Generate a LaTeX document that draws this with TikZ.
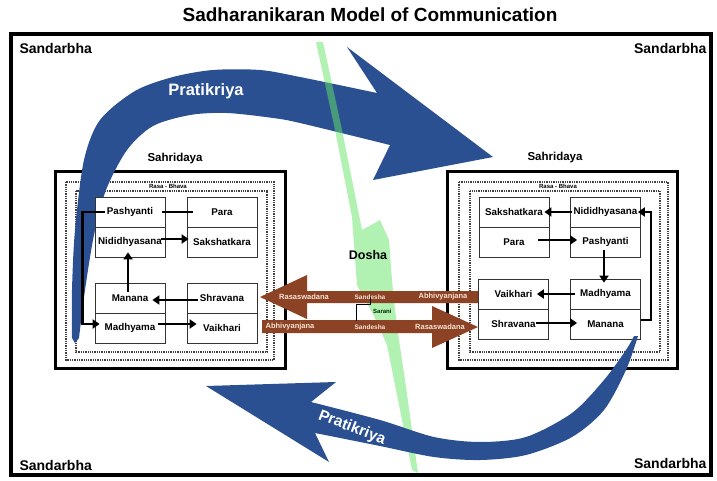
\documentclass[tikz,border=0pt]{standalone}
\usepackage{fontspec}
\setmainfont{Liberation Sans}
\usetikzlibrary{arrows.meta}
\definecolor{pratiblue}{RGB}{42,80,145}
\definecolor{doshagreen}{RGB}{100,228,100}
\definecolor{sandbrown}{RGB}{140,66,36}
\definecolor{palelbl}{RGB}{250,228,214}

\begin{document}
\begin{tikzpicture}[x=1pt,y=-1pt,
    cell/.style={draw=black!80,line width=0.7pt,fill=white,minimum width=70pt,minimum height=30pt,inner sep=0pt,font=\fontsize{9.8}{12}\selectfont\bfseries},
    flow/.style={line width=2.6pt,-{Triangle[length=7pt,width=9pt]}},
    frame/.style={line width=3pt},
    dotframe/.style={densely dotted,line width=1.3pt,black!75},
    arrowlbl/.style={text=palelbl,inner sep=0pt,font=\fontsize{7.5}{9}\selectfont\bfseries}]
    \useasboundingbox[fill=white] (0,0) rectangle (717,481);
    % title and outer frame
    \node[font=\fontsize{19}{22}\selectfont\bfseries] (title) at (370,15) {Sadharanikaran Model of Communication};
    \draw[line width=3.5pt] (11,34) rectangle (711,475);
    \node[anchor=west,font=\fontsize{14}{16}\selectfont\bfseries] (sandTL) at (16,48) {Sandarbha};
    \node[anchor=east,font=\fontsize{14}{16}\selectfont\bfseries] (sandTR) at (710,48) {Sandarbha};
    \node[anchor=west,font=\fontsize{14}{16}\selectfont\bfseries] (sandBL) at (16,465) {Sandarbha};
    \node[anchor=east,font=\fontsize{14}{16}\selectfont\bfseries] (sandBR) at (710,463) {Sandarbha};

    % the two Sahridaya
    \draw[frame] (55,172) rectangle (285,368);
    \draw[dotframe] (66,182) rectangle (274,360);
    \draw[dotframe] (76,191) rectangle (267,352);
    \node[font=\fontsize{11.5}{13}\selectfont\bfseries] (lSahr) at (175,159) {Sahridaya};
    \node[fill=white,inner sep=1pt,font=\fontsize{6}{7}\selectfont\bfseries] (lRasa) at (168,186) {Rasa - Bhava};
    \draw[frame] (447,172) rectangle (677,368);
    \draw[dotframe] (459,182) rectangle (668,360);
    \draw[dotframe] (470,191) rectangle (660,352);
    \node[font=\fontsize{11.5}{13}\selectfont\bfseries] (rSahr) at (555,158) {Sahridaya};
    \node[fill=white,inner sep=1pt,font=\fontsize{6}{7}\selectfont\bfseries] (rRasa) at (558,186) {Rasa - Bhava};

    % upper Pratikriya
    \fill[pratiblue] plot[smooth] coordinates {(72,338) (72,290) (75,230) (84,160) (100,120) (135,91) (173,77) (213,70) (260,70) (300,77) (377,93)}
        -- (347,47) -- (493,157) -- (373,180) -- (390,145)
        -- plot[smooth] coordinates {(390,145) (300,123) (273,118) (227,113) (190,115) (153,126) (127,150) (106,190) (94,235) (85,290) (79,338)}
        -- (75,343) -- cycle;
    \node[text=white,font=\fontsize{16.5}{18}\selectfont\bfseries] (pratiTop) at (206,91) {Pratikriya};

    % Dosha
    \fill[doshagreen,opacity=0.5] (316,42) -- (323,42) -- (342,130) -- (362,230) -- (380,220) -- (389,240) -- (392,280)
        -- (395,310) -- (399,340) -- (405,380) -- (412,430) -- (418,473) -- (412,470) -- (398,400) -- (387,345)
        -- (375,318) -- (357,285) -- (352,217) -- (335,130) -- cycle;
    \node[font=\fontsize{12.5}{14}\selectfont\bfseries] (dosha) at (368,255) {Dosha};

    % left side
    \node[cell] (lPash) at (130,212) {Pashyanti};
    \node[cell] (lNidi) at (130,242) {Nididhyasana};
    \node[cell] (lPara) at (222,212) {Para};
    \node[cell] (lSaks) at (222,242) {Sakshatkara};
    \node[cell] (lMana) at (130,298) {Manana};
    \node[cell] (lMadh) at (130,328) {Madhyama};
    \node[cell] (lShra) at (222,298) {Shravana};
    \node[cell] (lVaik) at (222,328) {Vaikhari};
    \draw[line width=2.6pt] ([xshift=-3pt]lPash.east) -- ([xshift=6pt]lPara.west);
    \draw[flow] ([shift={(-4,-3)}]lNidi.east) -- ([shift={(2,-3)}]lSaks.west);
    \draw[flow] ([shift={(-2,9)}]lMana.north) -- ([shift={(-2,-5)}]lNidi.south);
    \draw[flow] ([shift={(11,2)}]lShra.west) -- ([shift={(-13,2)}]lMana.east);
    \draw[flow] ([shift={(-7,-4)}]lMadh.east) -- ([shift={(10,-4)}]lVaik.west);
    \draw[flow] ([xshift=10pt]lPash.west) -- ++(-22,0) |- ([shift={(5,-4)}]lMadh.west);

    % right side
    \node[cell] (rSaks) at (514,212) {Sakshatkara};
    \node[cell] (rPara) at (514,242) {Para};
    \node[cell] (rNidi) at (605.5,212) {Nididhyasana};
    \node[cell] (rPash) at (605.5,242) {Pashyanti};
    \node[cell] (rVaik) at (513.5,294) {Vaikhari};
    \node[cell] (rShra) at (513.5,324) {Shravana};
    \node[cell] (rMadh) at (605.5,294) {Madhyama};
    \node[cell] (rMana) at (605.5,324) {Manana};
    \draw[flow] ([xshift=2pt]rNidi.west) -- ([xshift=-5pt]rSaks.east);
    \draw[flow] ([shift={(-11,-2)}]rPara.east) -- ([shift={(7,-2)}]rPash.west);
    \draw[flow] ([shift={(-1.5,-7)}]rPash.south) -- ([shift={(-1.5,4)}]rMadh.north);
    \draw[flow] ([xshift=5pt]rMadh.west) -- ([xshift=-12pt]rVaik.east);
    \draw[flow] ([shift={(-13,-1)}]rShra.east) -- ([shift={(7,-1)}]rMana.west);
    \draw[flow] ([yshift=4pt]rMana.east) -- ++(10,0) |- ([xshift=-3pt]rNidi.east);

    % Sandesha arrows
    \fill[sandbrown] (478,291) -- (307,291) -- (307,275) -- (260,297) -- (307,319) -- (307,303) -- (478,303) -- cycle;
    \fill[sandbrown] (262,320) -- (432,320) -- (432,306) -- (478,327) -- (432,348) -- (432,333) -- (262,333) -- cycle;
    \node[arrowlbl] (rasa1) at (304,297) {Rasaswadana};
    \node[arrowlbl,font=\fontsize{6.5}{8}\selectfont\bfseries] (sandtop) at (370,297) {Sandesha};
    \node[arrowlbl] (abhi1) at (443,297) {Abhivyanjana};
    \node[arrowlbl] (abhi2) at (290,327) {Abhivyanjana};
    \node[arrowlbl,font=\fontsize{6.5}{8}\selectfont\bfseries] (sandbot) at (370,327) {Sandesha};
    \node[arrowlbl] (rasa2) at (440,327) {Rasaswadana};
    \draw[line width=0.8pt] ([yshift=3pt]sandtop.south) -- ++(0,8) -| ([shift={(-14,-3)}]sandbot.north);
    \node[anchor=west,inner sep=1pt,text=black!85!green,font=\fontsize{6}{7}\selectfont\bfseries] (sarani) at (372,311) {Sarani};

    % lower Pratikriya
    \fill[pratiblue] plot[smooth] coordinates {(634,336) (626,350) (604,380) (572,413) (526,437) (480,442) (434,437) (380,420) (311,402)}
        -- (336,382) -- (206,386) -- (329,462) -- (315,433)
        -- plot[smooth] coordinates {(315,433) (380,446) (434,457) (480,460) (526,455) (572,437) (604,410) (626,370) (638,336)}
        -- cycle;
    \node[text=white,rotate=-21,font=\fontsize{15.5}{18}\selectfont\bfseries] (pratiBot) at (352,428) {Pratikriya};
\end{tikzpicture}
\end{document}
